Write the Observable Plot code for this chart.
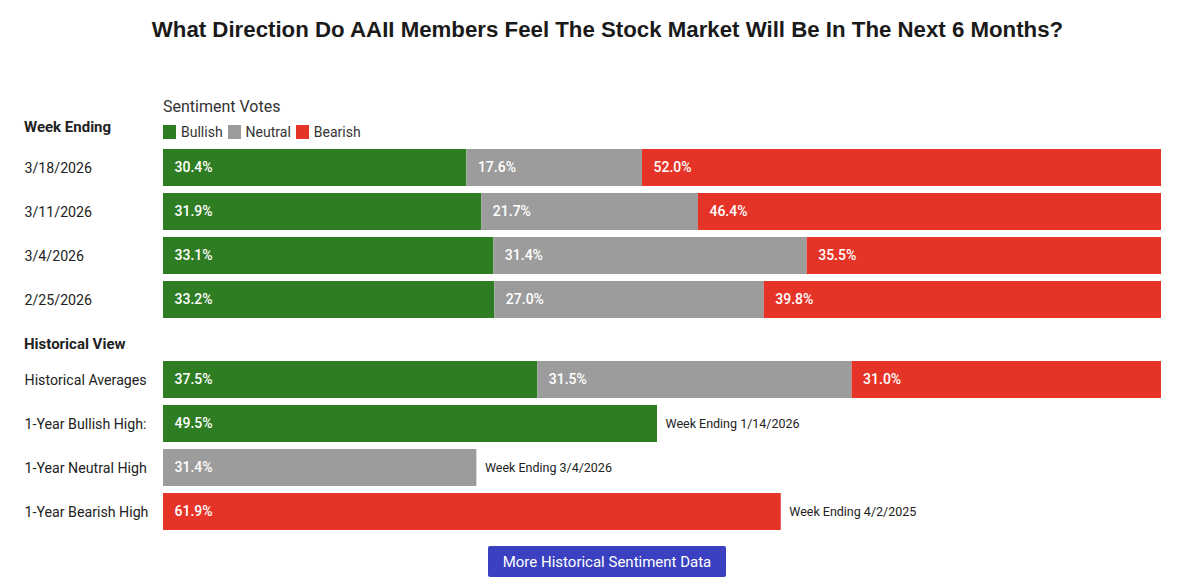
<!DOCTYPE html>
<html>
<head>
<meta charset="utf-8">
<script src="https://cdn.jsdelivr.net/npm/d3@7"></script>
<script src="https://cdn.jsdelivr.net/npm/@observablehq/plot@0.6"></script>
<style>
  body { margin: 0; background: #fff; font-family: Roboto, "Noto Sans", sans-serif; color: #222; }
  #page { position: relative; width: 1200px; height: 587px; overflow: hidden; }
  .abs { position: absolute; white-space: nowrap; }
  #title { left: 0; width: 1215px; text-align: center; top: 17px; font-family: "Liberation Sans", Arial, sans-serif; font-weight: bold; font-size: 22.25px; color: #1a1a1a; }
  #sv { left: 163px; top: 97px; font-size: 16px; color: #333; }
  .hdr { left: 24px; font-size: 15px; font-weight: 700; color: #222; }
  #legend { left: 163px; top: 124px; font-size: 14px; color: #333; display: flex; align-items: center; }
  #legend .sw { display: inline-block; width: 13px; height: 14px; margin-right: 5px; }
  #legend .it { display: flex; align-items: center; margin-right: 5px; }
  #btn { left: 488px; top: 546px; width: 238px; height: 31px; background: #3a40c0; color: #fff; font-size: 15px; text-align: center; line-height: 33px; border-radius: 2px; }
  .plot { position: absolute; left: 0; }
</style>
</head>
<body>
<div id="page">
  <div id="title" class="abs">What Direction Do AAII Members Feel The Stock Market Will Be In The Next 6 Months?</div>
  <div id="sv" class="abs">Sentiment Votes</div>
  <div class="abs hdr" style="top:118px">Week Ending</div>
  <div id="legend" class="abs"></div>
  <div class="abs hdr" style="top:335px">Historical View</div>
  <div id="p1" class="plot" style="top:144.2px"></div>
  <div id="p2" class="plot" style="top:357.2px"></div>
  <div id="btn" class="abs">More Historical Sentiment Data</div>
</div>
<script>
// ---- data ----
const sentiments = ["Bullish", "Neutral", "Bearish"];
const sentimentColors = ["#2f7d23", "#9c9c9c", "#e63327"];

const weeks = ["3/18/2026", "3/11/2026", "3/4/2026", "2/25/2026"];
const bullishWeekly = [30.4, 31.9, 33.1, 33.2];
const neutralWeekly = [17.6, 21.7, 31.4, 27.0];
const bearishWeekly = [52.0, 46.4, 35.5, 39.8];

const histRows = ["Historical Averages", "1-Year Bullish High:", "1-Year Neutral High", "1-Year Bearish High"];
const histAverages = [37.5, 31.5, 31.0]; // bullish, neutral, bearish
const highSentiments = ["Bullish", "Neutral", "Bearish"];
const highValues = [49.5, 31.4, 61.9];
const highNotes = ["Week Ending 1/14/2026", "Week Ending 3/4/2026", "Week Ending 4/2/2025"];

// ---- legend ----
const leg = document.getElementById("legend");
sentiments.forEach((s, i) => {
  const it = document.createElement("span");
  it.className = "it";
  it.innerHTML = `<span class="sw" style="background:${sentimentColors[i]}"></span>${s}`;
  leg.appendChild(it);
});

// ---- tables ----
const weekly = [];
weeks.forEach((w, i) => {
  weekly.push({row: w, sentiment: "Bullish", value: bullishWeekly[i]});
  weekly.push({row: w, sentiment: "Neutral", value: neutralWeekly[i]});
  weekly.push({row: w, sentiment: "Bearish", value: bearishWeekly[i]});
});
const hist = [];
sentiments.forEach((s, i) => hist.push({row: histRows[0], sentiment: s, value: histAverages[i]}));
highValues.forEach((v, i) => hist.push({row: histRows[i + 1], sentiment: highSentiments[i], value: v, note: highNotes[i]}));

const fmt = d => d.value.toFixed(1) + "%";

function chart(data, rows, height, withNotes) {
  const marks = [
    Plot.barX(data, Plot.stackX({x: "value", y: "row", fill: "sentiment", order: sentiments})),
    Plot.text(data, Plot.stackX1({x: "value", y: "row", z: "sentiment", order: sentiments, text: fmt,
      textAnchor: "start", dx: 11, fill: "white", fontSize: 14, fontWeight: 500})),
    Plot.text(rows, {y: d => d, text: d => d, frameAnchor: "left", textAnchor: "start", dx: -139,
      fill: "#222", fontSize: 14.2})
  ];
  if (withNotes) {
    marks.push(Plot.text(data.filter(d => d.note), {x: "value", y: "row", text: "note",
      textAnchor: "start", dx: 8, fill: "#222", fontSize: 12.5}));
  }
  return Plot.plot({
    width: 1200,
    height,
    marginLeft: 163,
    marginRight: 39,
    marginTop: 0,
    marginBottom: 0,
    style: {fontFamily: "Roboto, 'Noto Sans', sans-serif", overflow: "visible"},
    x: {domain: [0, 100], axis: null},
    y: {domain: rows, axis: null, paddingInner: 0.17, paddingOuter: 0.085},
    color: {domain: sentiments, range: sentimentColors},
    marks
  });
}

document.getElementById("p1").appendChild(chart(weekly, weeks, 178, false));
document.getElementById("p2").appendChild(chart(hist, histRows, 177.2, true));
</script>
</body>
</html>
